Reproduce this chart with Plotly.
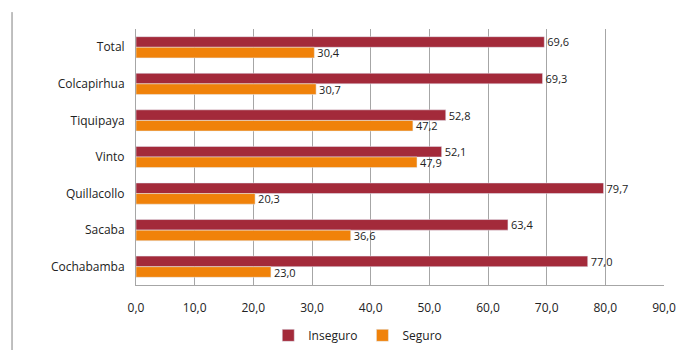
import plotly.graph_objects as go

# Percepción de seguridad por municipio (%)
municipios = ["Total", "Colcapirhua", "Tiquipaya", "Vinto", "Quillacollo", "Sacaba", "Cochabamba"]
inseguro = [69.6, 69.3, 52.8, 52.1, 79.7, 63.4, 77.0]
seguro = [30.4, 30.7, 47.2, 47.9, 20.3, 36.6, 23.0]
x_ticks = [0, 10, 20, 30, 40, 50, 60, 70, 80, 90]

FONT = "Open Sans, Liberation Sans, sans-serif"

fig = go.Figure()
fig.add_trace(go.Bar(
    y=municipios, x=inseguro, name="Inseguro", orientation="h",
    marker=dict(color="#A32A3A"),
    texttemplate="%{x:.1f}", textposition="outside", constraintext="none",
    textfont=dict(size=11, color="#222222"), cliponaxis=False,
))
fig.add_trace(go.Bar(
    y=municipios, x=seguro, name="Seguro", orientation="h",
    marker=dict(color="#F0820A"),
    texttemplate="%{x:.1f}", textposition="outside", constraintext="none",
    textfont=dict(size=11, color="#222222"), cliponaxis=False,
))

fig.update_layout(
    width=677, height=350,
    margin=dict(l=136, r=13, t=29, b=65, autoexpand=False),
    paper_bgcolor="white", plot_bgcolor="white",
    barmode="group", bargap=0.42, bargroupgap=0,
    separators=",.",
    font=dict(family=FONT, size=12, color="#222222"),
    showlegend=True,
    legend=dict(orientation="h", x=0.42, xanchor="center", y=-0.14, yanchor="top",
                font=dict(size=12), itemwidth=30, traceorder="normal"),
    xaxis=dict(range=[0, 90], tickvals=x_ticks, tickformat=".1f",
               showgrid=True, gridcolor="#A6A6A6", gridwidth=1,
               showline=True, linecolor="#A6A6A6", linewidth=1,
               zeroline=False, ticks="", ticklabelstandoff=12,
               automargin=False, tickfont=dict(size=12)),
    yaxis=dict(autorange="reversed", showline=True, linecolor="#A6A6A6",
               linewidth=1, ticks="", ticklabelstandoff=8, showgrid=False,
               automargin=False, tickfont=dict(size=12)),
)

# outer frame edge on the left of the chart
fig.add_shape(type="line", xref="paper", yref="paper",
              x0=-0.2348, x1=-0.2348, y0=1.066, y1=-0.26,
              line=dict(color="#808080", width=1))

fig.write_html("out.html")
